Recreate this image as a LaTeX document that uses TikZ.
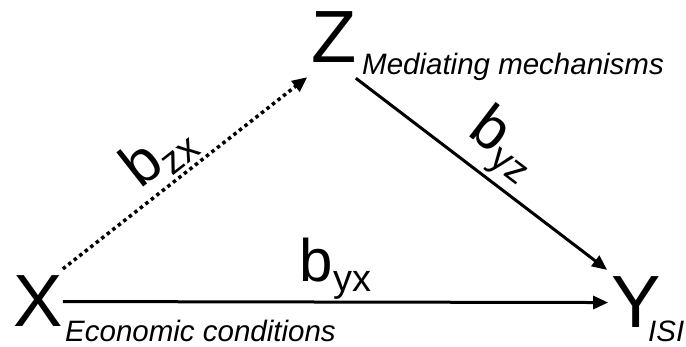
\documentclass[tikz,border=0pt]{standalone}
\usepackage{fontspec}
\setmainfont{Liberation Sans}
\usetikzlibrary{arrows.meta}
\newcommand\bsub[1]{b\raisebox{-10pt}{\fontsize{38}{38}\selectfont #1}}
\begin{document}
\begin{tikzpicture}[x=1pt,y=1pt,
  letter/.style={inner sep=0pt, font=\fontsize{74}{74}\selectfont, anchor=base},
  desc/.style={inner sep=0pt, font=\fontsize{29.5}{29.5}\selectfont\itshape, anchor=base west},
  coef/.style={inner sep=1pt, font=\fontsize{60}{60}\selectfont},
  arr/.style={line width=3pt, -{Triangle[length=15pt,width=13pt]}},
  dotarr/.style={line width=3.5pt, dash pattern=on 3.5pt off 3.5pt, -{Triangle[length=15pt,width=13pt]}}]
\useasboundingbox (0,0) rectangle (686,347);
\node[letter] (X) at (38,20) {X};
\node[letter] (Y) at (636,19) {Y};
\node[letter] (Z) at (334,284) {Z};
\node[desc] (xd) at (65,5) {Economic conditions};
\node[desc] (yd) at (648,5) {ISI};
\node[desc] (zd) at (362,272) {Mediating mechanisms};
\draw[arr] (X.east) -- node[coef, above] (byx) {\bsub{yx}} ([xshift=-3pt]Y.west);
\draw[dotarr] ([yshift=7pt]X.north east) -- node[coef, sloped, above, pos=0.47, yshift=2pt] (bzx) {\bsub{zx}} ([shift={(-4pt,-14pt)}]Z.south west);
\draw[arr] ([shift={(-1pt,-15pt)}]Z.south east) -- node[coef, sloped, above, yshift=2pt] (byz) {\bsub{yz}} ([shift={(-4pt,7pt)}]Y.north west);
\end{tikzpicture}
\end{document}
